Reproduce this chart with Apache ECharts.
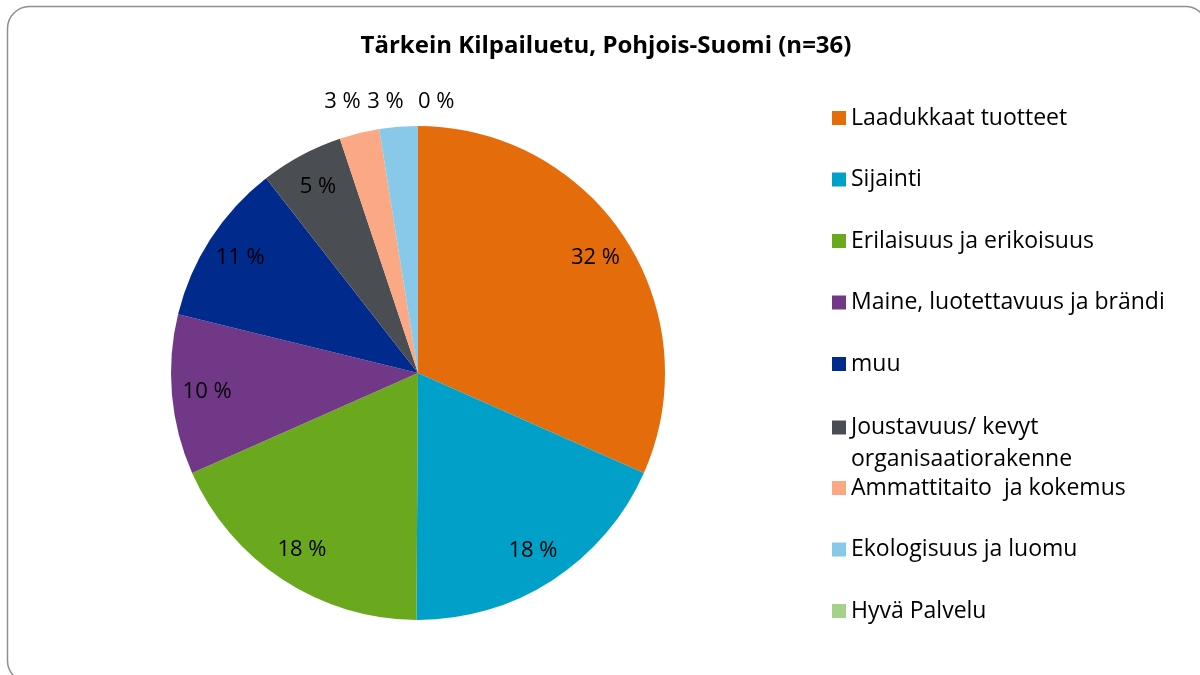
<!DOCTYPE html>
<html>
<head>
<meta charset="utf-8">
<title>Tärkein Kilpailuetu, Pohjois-Suomi</title>
<script src="https://cdn.jsdelivr.net/npm/echarts@6/dist/echarts.min.js"></script>
<style>
  html, body { margin: 0; padding: 0; background: #fff; }
  #chart { width: 1200px; height: 675px; }
</style>
</head>
<body>
<div id="chart"></div>
<script>
  // 数据
  const titleText = 'Tärkein Kilpailuetu, Pohjois-Suomi (n=36)';
  const names = [
    'Laadukkaat tuotteet',
    'Sijainti',
    'Erilaisuus ja erikoisuus',
    'Maine, luotettavuus ja brändi',
    'muu',
    'Joustavuus/ kevyt organisaatiorakenne',
    'Ammattitaito  ja kokemus',
    'Ekologisuus ja luomu',
    'Hyvä Palvelu'
  ];
  const values = [31.5, 18.4, 18.2, 10.4, 10.6, 5.4, 2.6, 2.5, 0];
  const colors = ['#E46C0A', '#00A0C8', '#6AA81E', '#713887', '#002B8C', '#4A4E52', '#FBA985', '#88C9E9', '#A6D18A'];

  const font = '"Open Sans", Lato, sans-serif';
  const center = [418, 373];
  const radius = 247;

  // 扇区中线角度（用于把内部标签推到外圈）
  const total = values.reduce((a, b) => a + b, 0);
  let acc = 0;
  const midAngles = values.map(v => {
    const m = (acc + v / 2) / total * Math.PI * 2;
    acc += v;
    return m % (Math.PI * 2);
  });
  const isSmall = v => v / total < 0.04;

  const pieData = names.map((n, i) => ({
    name: n,
    value: values[i],
    itemStyle: { color: colors[i] },
    label: { position: isSmall(values[i]) ? 'outside' : 'inside' }
  }));

  const legendBase = {
    orient: 'vertical',
    left: 832,
    padding: 0,
    icon: 'rect',
    itemWidth: 14,
    itemHeight: 14,
    itemGap: 37.5,
    textStyle: { fontFamily: font, fontSize: 23, color: '#000', lineHeight: 24 }
  };

  const chart = echarts.init(document.getElementById('chart'));
  chart.setOption({
    animation: false,
    title: {
      text: titleText,
      left: 606,
      top: 34,
      padding: 0,
      textAlign: 'center',
      textStyle: { fontFamily: font, fontSize: 24, fontWeight: 'bold', color: '#000' }
    },
    legend: [
      Object.assign({}, legendBase, {
        top: 106,
        data: names.slice(0, 5)
      }),
      // 两行的图例项：图标对齐第一行
      Object.assign({}, legendBase, {
        top: 416,
        data: names.slice(5, 6),
        formatter: name => '{a|' + name.replace('/ kevyt ', '/ kevyt}\n{b|') + '}',
        textStyle: {
          fontFamily: font, fontSize: 23, color: '#000',
          rich: {
            a: { fontFamily: font, fontSize: 23, color: '#000', lineHeight: 64 },
            b: { fontFamily: font, fontSize: 23, color: '#000', lineHeight: 0 }
          }
        }
      }),
      Object.assign({}, legendBase, {
        top: 476,
        data: names.slice(6)
      })
    ],
    graphic: [{
      type: 'rect',
      z: -10,
      shape: { x: 7.5, y: 6.5, width: 1200, height: 676, r: 22 },
      style: { fill: 'none', stroke: '#8f8f8f', lineWidth: 1.5 }
    }],
    series: [{
      type: 'pie',
      center: center,
      radius: [0, radius],
      startAngle: 90,
      clockwise: true,
      avoidLabelOverlap: false,
      data: pieData,
      itemStyle: { borderWidth: 0 },
      label: {
        fontFamily: font,
        fontSize: 22,
        color: '#000',
        distanceToLabelLine: 0,
        formatter: p => Math.round(p.value) + ' %'
      },
      labelLine: { show: false, length: 24, length2: 0 },
      labelLayout: p => {
        const a = midAngles[p.dataIndex];
        if (isSmall(values[p.dataIndex])) {
          // 小扇区标签排成一行，放在饼图上方
          const right = a < Math.PI;
          return {
            y: center[1] - radius - 24,
            align: right ? 'left' : 'right',
            dx: right ? 0 : 7
          };
        }
        // 内部标签放在约 0.845 半径处
        const extra = radius * 0.345;
        return { dx: extra * Math.sin(a), dy: -extra * Math.cos(a) };
      },
      emphasis: { disabled: true }
    }]
  });
</script>
</body>
</html>
